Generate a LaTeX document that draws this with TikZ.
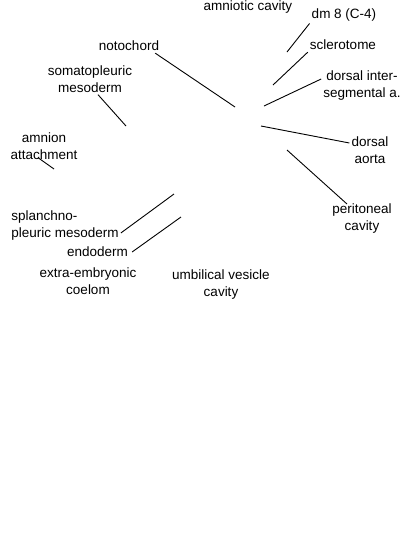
\documentclass[tikz,border=0pt]{standalone}
\usepackage{fontspec}
\setmainfont{Liberation Sans}
\usetikzlibrary{positioning}
\tikzset{
  lbl/.style  = {font=\fontsize{13.5}{17}\selectfont, align=center,
                 inner sep=2pt, text=black},
  lbll/.style = {lbl, align=left},
  lead/.style = {draw=black, line width=0.9pt},
}
\begin{document}
\begin{tikzpicture}[x=1pt, y=-1pt]
    \useasboundingbox (0,0) rectangle (400,550);
    % labels
    \node[lbl] (lblAmc)  at (248,7)    {amniotic cavity};
    \node[lbl] (lblDm)   at (344,15)   {dm 8 (C-4)};
    \node[lbl] (lblScl)  at (343,45)   {sclerotome};
    \node[lbl] (lblDia)  at (362,86)   {dorsal inter-\\segmental a.};
    \node[lbl] (lblNoto) at (129,46)   {notochord};
    \node[lbl] (lblSoma) at (90,79)    {somatopleuric\\mesoderm};
    \node[lbl] (lblAmn)  at (44,146)   {amnion\\attachment};
    \node[lbl] (lblDao)  at (370,150)  {dorsal\\aorta};
    \node[lbl] (lblPer)  at (362,219)  {peritoneal\\cavity};
    \node[lbll] (lblSpl) at (65,226)   {splanchno-\\pleuric mesoderm};
    \node[lbl] (lblEndo) at (97.5,252) {endoderm};
    \node[lbl] (lblExc)  at (88,281)   {extra-embryonic\\coelom};
    \node[lbl] (lblUvc)  at (221,285)  {umbilical vesicle\\cavity};
    % pointer ends
    \coordinate (pDm)   at (287,52);
    \coordinate (pScl)  at (273,85);
    \coordinate (pDia)  at (264,106);
    \coordinate (pNoto) at (235,107);
    \coordinate (pSoma) at (126,126);
    \coordinate (pAmn)  at (54,169);
    \coordinate (pDao)  at (261,126);
    \coordinate (pPer)  at (287,150);
    \coordinate (pSpl)  at (174,194);
    \coordinate (pEndo) at (181,217);
    % leaders
    \draw[lead] (lblDm.south west) -- (pDm);
    \draw[lead] (lblScl.south west) -- (pScl);
    \draw[lead] ([yshift=7pt]lblDia.west) -- (pDia);
    \draw[lead] ([xshift=-6pt]lblNoto.south east) -- (pNoto);
    \draw[lead] ([xshift=8pt]lblSoma.south) -- (pSoma);
    \draw[lead] ([xshift=-6pt,yshift=4pt]lblAmn.south) -- (pAmn);
    \draw[lead] ([yshift=7pt]lblDao.west) -- (pDao);
    \draw[lead] ([xshift=-15pt,yshift=-2pt]lblPer.north) -- (pPer);
    \draw[lead] ([yshift=-7pt]lblSpl.east) -- (pSpl);
    \draw[lead] ([xshift=2pt]lblEndo.east) -- (pEndo);
  \end{tikzpicture}
\end{document}
